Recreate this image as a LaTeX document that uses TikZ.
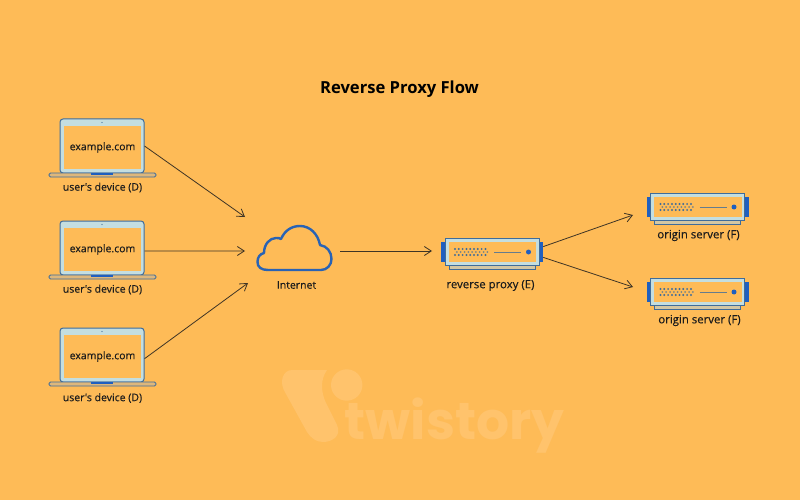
\documentclass[tikz,border=0pt]{standalone}
\usepackage{fontspec}
\setmainfont{Open Sans}
\newfontfamily\markfont{Poppins}
\newfontfamily\lblfont[FakeBold=0.25]{Open Sans}
\usetikzlibrary{arrows.meta, positioning, calc}
\definecolor{pagebg}{HTML}{FEBB57}
\definecolor{markbg}{HTML}{FFC36C}
\definecolor{framedark}{HTML}{3F6C9A}
\definecolor{framelight}{HTML}{C4DEE0}
\definecolor{tabblue}{HTML}{1F5FBF}
\definecolor{basegray}{HTML}{DDB77C}
\definecolor{inkdark}{HTML}{1C1C1C}
\tikzset{
  lbl/.style={font=\lblfont\fontsize{10.5}{12}\selectfont, text=inkdark, inner sep=0pt},
  srvlbl/.style={lbl, font=\lblfont\fontsize{11.4}{13}\selectfont},
  flow/.style={-{Straight Barb[length=7pt,width=9pt]}, draw=inkdark!85!pagebg, line width=0.8pt},
  lidbox/.style={draw=framedark, fill=framelight, line width=1pt, rounded corners=3pt,
    minimum width=84pt, minimum height=54pt, inner sep=0pt},
  panelbox/.style={fill=pagebg, minimum width=77pt, minimum height=43pt, inner sep=0pt, lbl},
  rackbox/.style={draw=framedark, fill=framelight, line width=1pt,
    minimum width=94pt, minimum height=27pt, inner sep=0pt},
  tabbox/.style={fill=tabblue, minimum width=4pt, minimum height=20pt, inner sep=0pt},
  holdbox/.style={minimum width=102pt, minimum height=27pt, inner sep=0pt}
}
\begin{document}
\begin{tikzpicture}[x=1pt, y=-1pt]
  \fill[pagebg] (0,0) rectangle (800,500);
  \useasboundingbox (0,0) rectangle (800,500);

  % Watermark
  \fill[markbg] (292,370) -- (327,370) .. controls (320,380) and (321,392) .. (326,403)
    -- (337,425) .. controls (342,436) and (332,442) .. (323,442)
    .. controls (316,442) and (311,438) .. (307,432) -- (286,394)
    .. controls (278,382) and (283,370) .. (292,370) -- cycle;
  \fill[markbg] (346.7,385) circle (15.7);
  \node[font=\markfont\bfseries\fontsize{52}{52}\selectfont, text=markbg, inner sep=0pt, anchor=base west] (mark) at (344.5,439.5) {twistory};

  \node[font=\bfseries\fontsize{16.6}{19}\selectfont, text=black, inner sep=0pt] (title) at (399.5,89) {Reverse Proxy Flow};

  % Laptops
  \foreach \n/\y/\ly in {1/0/187.5, 2/102/289.5, 3/209/398} {
    \node[lidbox] (dev\n) at (102,146+\y) {};
    \node[panelbox, yshift=-0.5pt] (screen\n) at (102.5,147+\y) {example.com};
    \fill[framedark] (102,122.5+\y) circle (0.7);
    \draw[draw=framedark, fill=basegray, line width=0.8pt, rounded corners=1.5pt] (49,173+\y) rectangle (156,177+\y);
    \fill[tabblue] (91,173+\y) rectangle (113,175+\y);
    \node[lbl] (devlabel\n) at (102.5,\ly) {user's device (D)};
  }

  % Cloud
  \draw[draw=tabblue!70!framedark, line width=2.4pt, line join=round]
    (268,270) .. controls (261,270) and (257.5,267) .. (257.5,262)
    .. controls (257.5,257) and (260,254) .. (264,253)
    .. controls (264,244) and (270,238) .. (276,238)
    .. controls (278,238) and (280,238) .. (281,239)
    .. controls (285,230) and (292,226) .. (300,226)
    .. controls (310,226) and (318,234) .. (320,245)
    .. controls (327,246) and (331.5,252) .. (331.5,259)
    .. controls (331.5,265) and (327,270) .. (321,270) -- cycle;
  \node[lbl] (netlabel) at (296.5,285) {Internet};
  \coordinate (cloudin1) at (245,217);
  \coordinate (cloudin2) at (245,251);
  \coordinate (cloudin3) at (248,283);
  \coordinate (cloudout) at (340,251);
  \coordinate (proxyin) at (432,251);
  \coordinate (originAin) at (633,215);
  \coordinate (originBin) at (633,287);

  % Servers
  \foreach \n/\x/\y/\lx/\ly/\l in {proxy/492/252/490.5/285.5/reverse proxy (E), originA/697.5/207/698.5/235.5/origin server (F), originB/697.5/292/699.5/320.5/origin server (F)} {
    \node[holdbox] (\n) at (\x,\y) {};
    \fill[basegray!60!framelight] (\x-43,\y+13) rectangle (\x+43,\y+17);
    \draw[draw=framedark, line width=0.8pt] (\x-43,\y+14) -- (\x-43,\y+17) -- (\x+43,\y+17) -- (\x+43,\y+14);
    \node[tabbox] (\n tabL) at (\x-49,\y) {};
    \node[tabbox] (\n tabR) at (\x+49,\y) {};
    \node[rackbox] (\n rack) at (\x,\y) {};
    \fill[pagebg] (\x-43.5,\y-10) rectangle (\x+44,\y+10);
    \foreach \i in {0,...,8} {
      \fill[framedark] (\x-37+3.8*\i,\y-3) circle (1.1);
      \fill[framedark] (\x-37+3.8*\i,\y+3) circle (1.1);
      \fill[framedark!70!pagebg] (\x-35.1+3.8*\i,\y) circle (1);
    }
    \draw[draw=framedark!80!pagebg, line width=0.9pt] (\x+2,\y) -- (\x+29,\y);
    \fill[tabblue] (\x+36.5,\y) circle (2.5);
    \node[srvlbl] (\n label) at (\lx,\ly) {\l};
  }

  % Connectors
  \draw[flow] (dev1.east) -- (cloudin1);
  \draw[flow] (dev2.-4) -- (cloudin2);
  \draw[flow] (dev3.-5) -- (cloudin3);
  \draw[flow] (cloudout) -- (proxyin);
  \draw[flow] (proxy.6) -- (originAin);
  \draw[flow] (proxy.-6) -- (originBin);
\end{tikzpicture}
\end{document}
